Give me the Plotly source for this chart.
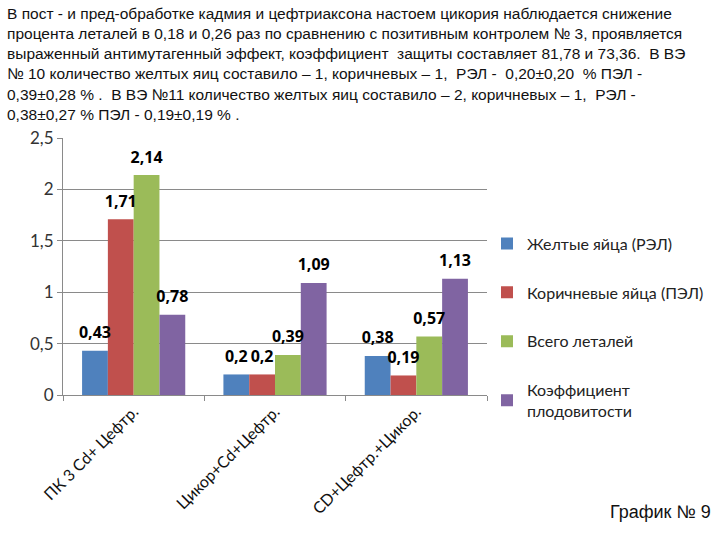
import plotly.graph_objects as go

categories = ["ПК 3 Cd+ Цефтр.", "Цикор+Cd+Цефтр.", "CD+Цефтр.+Цикор."]
series_names = ["Желтые яйца (РЭЛ)", "Коричневые яйца (ПЭЛ)", "Всего леталей",
                "Коэффициент<br>плодовитости"]
yellow = [0.43, 0.2, 0.38]
brown = [1.71, 0.2, 0.19]
total = [2.14, 0.39, 0.57]
fertility = [0.78, 1.09, 1.13]
colors = ["#4F81BD", "#C0504D", "#9BBB59", "#8064A2"]
y_ticks = [0, 0.5, 1, 1.5, 2, 2.5]

paragraph = (
    "В пост - и пред-обработке кадмия и цефтриаксона настоем цикория наблюдается снижение<br>"
    "процента леталей в 0,18 и 0,26 раз по сравнению с позитивным контролем № 3, проявляется<br>"
    "выраженный антимутагенный эффект, коэффициент  защиты составляет 81,78 и 73,36.  В ВЭ<br>"
    "№ 10 количество желтых яиц составило – 1, коричневых – 1,  РЭЛ -  0,20±0,20  % ПЭЛ -<br>"
    "0,39±0,28 % .  В ВЭ №11 количество желтых яиц составило – 2, коричневых – 1,  РЭЛ -<br>"
    "0,38±0,27 % ПЭЛ - 0,19±0,19 % ."
)

fig = go.Figure()
all_series = [yellow, brown, total, fertility]
for i, (name, vals, col) in enumerate(zip(series_names, all_series, colors)):
    fig.add_trace(go.Bar(
        x=categories, y=vals, name=name, marker_color=col, marker_line_width=0,
        offsetgroup=str(i), legendgroup=name,
    ))
for i, vals in enumerate(all_series):
    fig.add_trace(go.Scatter(
        x=categories, y=vals, mode="markers+text", offsetgroup=str(i), showlegend=False,
        marker=dict(size=12, opacity=0),
        text=[str(v).replace(".", ",") for v in vals], textposition="top center",
        textfont=dict(family="Open Sans, Lato, sans-serif", size=16, color="black", weight="bold"),
        cliponaxis=False, hoverinfo="skip",
    ))

fig.update_layout(
    width=720, height=540,
    margin=dict(l=63, r=233, t=138, b=145, autoexpand=False),
    paper_bgcolor="white", plot_bgcolor="white",
    barmode="group", bargap=0.27, bargroupgap=0,
    scattermode="group", scattergap=0.27,
    separators=", ",
    showlegend=True,
    legend=dict(x=1.0, y=0.655, xanchor="left", yanchor="top",
                font=dict(family="Lato, Open Sans, sans-serif", size=16, color="#222"),
                tracegroupgap=25, itemwidth=30,
                bgcolor="rgba(0,0,0,0)"),
    font=dict(family="Lato, sans-serif"),
)
fig.update_yaxes(range=[0, 2.5], tickvals=y_ticks, ticktext=[str(v).replace(".", ",") if v % 1 else str(int(v)) for v in y_ticks],
                 showgrid=True, gridcolor="#8a8a8a", gridwidth=1, automargin=False,
                 showline=True, linecolor="#8a8a8a", ticks="outside", ticklen=5, tickcolor="#8a8a8a",
                 tickfont=dict(family="Lato, sans-serif", size=17, color="#333"),
                 zeroline=False)
fig.update_xaxes(showline=True, linecolor="#8a8a8a", ticks="outside", tickson="boundaries",
                 ticklen=5, tickcolor="#8a8a8a", tickangle=-45, automargin=False,
                 tickfont=dict(family="Lato, sans-serif", size=16, color="#111"))

fig.add_annotation(text=paragraph, xref="paper", yref="paper", x=(5-63)/424, y=1 + (138-3)/257,
                   xanchor="left", yanchor="top", align="left", showarrow=False,
                   font=dict(family="Liberation Sans, Arial, sans-serif", size=15.5, color="#111"))
fig.add_annotation(text="График № 9", xref="paper", yref="paper", x=(608-63)/424, y=-(500-395)/257,
                   xanchor="left", yanchor="top", showarrow=False,
                   font=dict(family="Liberation Sans, Arial, sans-serif", size=18, color="#111"))

fig.write_html("out.html")
